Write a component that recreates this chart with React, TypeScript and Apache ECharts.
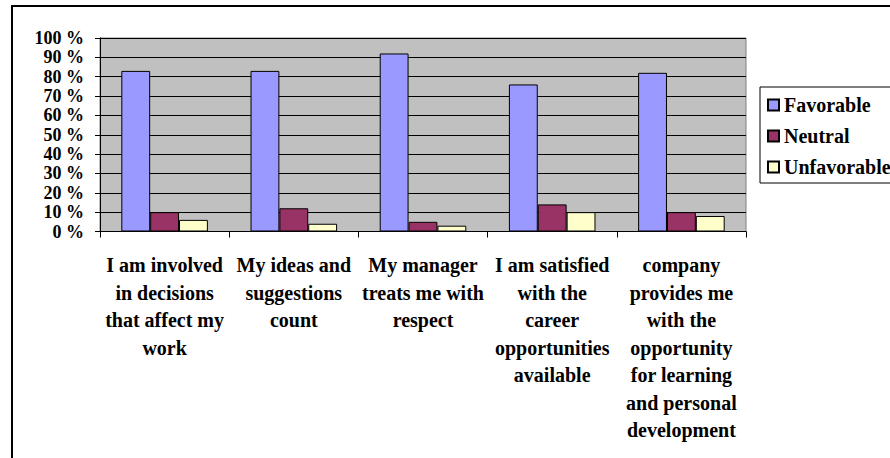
import React, { useEffect, useRef } from "react";
import * as echarts from "echarts";

const categories = [
  "I am involved\nin decisions\nthat affect my\nwork",
  "My ideas and\nsuggestions\ncount",
  "My manager\ntreats me with\nrespect",
  "I am satisfied\nwith the\ncareer\nopportunities\navailable",
  "company\nprovides me\nwith the\nopportunity\nfor learning\nand personal\ndevelopment",
];
const favorable = [83, 83, 92, 76, 82];
const neutral = [10, 12, 5, 14, 10];
const unfavorable = [6, 4, 3, 10, 8];
const yTicks = { min: 0, max: 100, interval: 10 };

const FONT = "'Liberation Serif', 'Times New Roman', serif";

export default function App() {
  const ref = useRef<HTMLDivElement>(null);
  useEffect(() => {
    document.body.style.margin = "0";
    const chart = echarts.init(ref.current!, null, { renderer: "svg" });
    const textStyle = { fontFamily: FONT, fontWeight: "bold" as const, fontSize: 20, color: "#000" };
    const bar = (name: string, data: number[], color: string) => ({
      name,
      type: "bar",
      data,
      barGap: "0%",
      barCategoryGap: "33%",
      itemStyle: { color, borderColor: "#000", borderWidth: 1 },
    });
    chart.setOption({
      animation: false,
      textStyle: { fontFamily: FONT },
      grid: {
        left: 100,
        top: 38,
        width: 646,
        height: 193.5,
        show: true,
        backgroundColor: "#C0C0C0",
        borderColor: "#808080",
        borderWidth: 1,
      },
      graphic: [
        {
          type: "rect",
          shape: { x: 12, y: 6, width: 1000, height: 1000 },
          style: { fill: "none", stroke: "#000", lineWidth: 2 },
          silent: true,
          z: 100,
        },
      ],
      legend: {
        orient: "vertical",
        left: 760,
        top: 87,
        itemWidth: 11,
        itemHeight: 11,
        itemGap: 11,
        padding: [8, 30, 6, 7],
        borderColor: "#000",
        borderWidth: 1,
        backgroundColor: "#fff",
        icon: "rect",
        textStyle: { ...textStyle },
        data: ["Favorable", "Neutral", "Unfavorable"],
      },
      xAxis: {
        type: "category",
        data: categories,
        axisLine: { show: true, lineStyle: { color: "#000", width: 1 } },
        axisTick: { show: true, length: 6, lineStyle: { color: "#000" } },
        axisLabel: {
          ...textStyle,
          interval: 0,
          margin: 20,
          lineHeight: 27.5,
          align: "center",
        },
      },
      yAxis: {
        type: "value",
        min: yTicks.min,
        max: yTicks.max,
        interval: yTicks.interval,
        axisLine: { show: true, lineStyle: { color: "#000", width: 1 } },
        axisTick: { show: true, length: 5, lineStyle: { color: "#000" } },
        axisLabel: {
          ...textStyle,
          fontSize: 18,
          lineHeight: 18,
          margin: 16,
          showMinLabel: true,
          showMaxLabel: true,
          hideOverlap: false,
          formatter: "{value} %",
        },
        splitLine: { show: true, lineStyle: { color: "#000", width: 1 } },
      },
      series: [
        bar("Favorable", favorable, "#9999FF"),
        bar("Neutral", neutral, "#993366"),
        bar("Unfavorable", unfavorable, "#FFFFCC"),
      ],
    });
    return () => chart.dispose();
  }, []);
  return <div ref={ref} style={{ width: 890, height: 458 }} />;
}
